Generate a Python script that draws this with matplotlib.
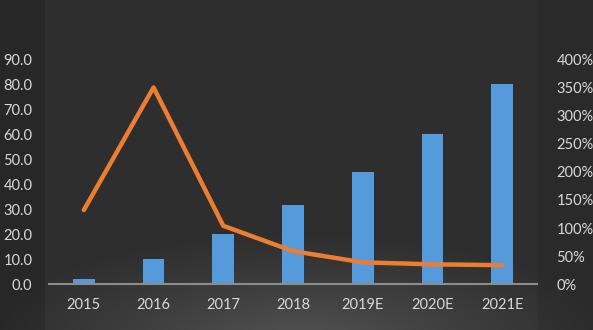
import matplotlib.pyplot as plt
import numpy as np
from matplotlib.ticker import FuncFormatter

plt.rcParams["font.family"] = ["Lato", "DejaVu Sans"]

years = ["2015", "2016", "2017", "2018", "2019E", "2020E", "2021E"]
market_size = [2.1, 10.2, 20.1, 31.8, 44.9, 60.1, 80.1]
growth_pct = [132, 350, 104, 59, 39, 35.5, 34]

text_color = "#d9d9d9"

fig = plt.figure(figsize=(5.93, 3.30), dpi=100, facecolor="#272727")

# background: lighter plot panel with a soft glow at the bottom centre
bg = fig.add_axes([0, 0, 1, 1], zorder=-10)
W, H = 593, 330
xx, yy = np.meshgrid(np.arange(W), np.arange(H))
base = np.full((H, W), 0x27, dtype=float)
base[:, 45:538] = 0x2e
base[:, 538:] = 0x2a
d = np.sqrt(((xx - 300) / 330.0) ** 2 + ((yy - 345) / 115.0) ** 2)
glow = np.clip(1 - d, 0, 1) ** 1.2 * 38
img = np.clip(base + glow, 0, 255) / 255.0
bg.imshow(np.dstack([img, img, img]), aspect="auto", extent=[0, 1, 0, 1], origin="upper")
bg.axis("off")

ax = fig.add_axes([49 / W, 45.7 / H, (537 - 49) / W, 225 / H])
ax.patch.set_alpha(0)
x = np.arange(len(years))
ax.bar(x, market_size, width=0.31, color="#559bdc", zorder=2)
ax.set_xlim(-0.5, len(years) - 0.5)
ax.set_ylim(0, 90)
ax.set_yticks(np.arange(0, 91, 10))
ax.yaxis.set_major_formatter(FuncFormatter(lambda v, p: f"{v:.1f}"))
ax.set_xticks(x)
ax.set_xticklabels(years)
for s in ["top", "left", "right"]:
    ax.spines[s].set_visible(False)
ax.spines["bottom"].set_color("#8c8c8c")
ax.spines["bottom"].set_linewidth(1.5)
ax.spines["bottom"].set_zorder(3)
ax.tick_params(axis="both", length=0, colors=text_color, labelsize=10.5)
ax.tick_params(axis="y", pad=12)
ax.tick_params(axis="x", pad=10)

ax2 = ax.twinx()
ax2.plot(x, growth_pct, color="#ed7d31", linewidth=3.2, solid_capstyle="round",
         solid_joinstyle="round", zorder=4)
ax2.set_ylim(0, 400)
ax2.set_yticks(np.arange(0, 401, 50))
ax2.yaxis.set_major_formatter(FuncFormatter(lambda v, p: f"{v:.0f}%"))
for s in ax2.spines.values():
    s.set_visible(False)
ax2.tick_params(axis="y", length=0, colors=text_color, labelsize=10.5, pad=14)

fig.savefig("out.png", dpi=100, facecolor=fig.get_facecolor())
